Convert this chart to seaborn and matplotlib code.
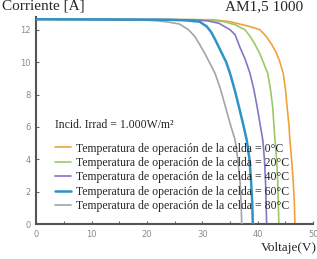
import pandas as pd
import seaborn as sns
import matplotlib.pyplot as plt
from matplotlib.ticker import MultipleLocator

# Curvas I-V (voltaje en V, corriente en A)
v_0 = [0, 32, 35, 36.8, 38.6, 40.4, 41.5, 42.5, 43.3, 43.9, 44.6, 45.0, 45.3, 45.6, 45.8, 46.1, 46.4, 46.6, 46.7]
i_0 = [12.65, 12.62, 12.5, 12.35, 12.2, 12.0, 11.6, 11.1, 10.6, 10.1, 9.3, 8.3, 7.2, 6.2, 5.2, 4.0, 2.6, 1.3, 0]
v_20 = [0, 30, 34, 36, 37.7, 38.6, 39.5, 40.4, 41.1, 41.8, 42.3, 42.7, 42.9, 43.1, 43.4, 43.6, 43.7, 43.8]
i_20 = [12.65, 12.62, 12.5, 12.3, 12.0, 11.6, 11.1, 10.5, 9.9, 9.3, 8.3, 7.2, 6.2, 5.2, 4.0, 2.6, 1.3, 0]
v_40 = [0, 28, 31, 33, 35.0, 35.9, 36.8, 37.7, 38.6, 39.3, 39.9, 40.4, 40.9, 41.2, 41.4, 41.5, 41.6]
i_40 = [12.65, 12.62, 12.55, 12.4, 12.0, 11.7, 10.9, 10.2, 9.3, 8.3, 7.2, 6.2, 5.2, 4.0, 2.6, 1.3, 0]
v_60 = [0, 24, 27, 29.5, 30.8, 31.6, 32.3, 33.3, 34.3, 35.0, 35.9, 36.7, 37.4, 38.0, 38.5, 38.8, 39.0, 39.1]
i_60 = [12.65, 12.62, 12.58, 12.5, 12.2, 11.85, 11.4, 10.7, 10.0, 9.3, 8.2, 7.1, 6.1, 5.2, 4.0, 2.6, 1.3, 0]
v_80 = [0, 18, 22, 24, 25.9, 27.5, 28.6, 29.5, 30.5, 31.4, 32.3, 33.3, 34.2, 35.1, 35.9, 36.4, 36.8, 37.0, 37.1]
i_80 = [12.65, 12.62, 12.55, 12.47, 12.35, 12.0, 11.6, 11.1, 10.5, 9.9, 9.3, 8.3, 7.2, 6.1, 5.2, 4.0, 2.6, 1.3, 0]

temperaturas = ["0°C", "20°C", "40°C", "60°C", "80°C"]
colores = ["#F2A13A", "#9CC867", "#8676C2", "#2E93C6", "#A3A3AB"]
grosor = [1.2, 1.2, 1.2, 1.8, 1.2]
orden = [2, 2, 2, 4, 3]

curvas = [(v_0, i_0), (v_20, i_20), (v_40, i_40), (v_60, i_60), (v_80, i_80)]
filas = []
for t, (v, i) in zip(temperaturas, curvas):
    for a, b in zip(v, i):
        filas.append([t, a, b])
df = pd.DataFrame(filas, columns=["temp", "V", "I"])

sns.set_theme(style="white")
plt.rcParams['font.family'] = ['Liberation Serif', 'DejaVu Serif']

fig = plt.figure(figsize=(3.17, 2.59), dpi=100)
ax = fig.add_axes([0.114, 0.135, 0.874, 0.8])

for t, c, lw, z in zip(temperaturas, colores, grosor, orden):
    sns.lineplot(data=df[df["temp"] == t], x="V", y="I", color=c, linewidth=lw,
                 sort=False, estimator=None, ax=ax, zorder=z,
                 label="Temperatura de operación de la celda = " + t)

ax.set_xlim(0, 50)
ax.set_ylim(0, 12.8)
ax.xaxis.set_major_locator(MultipleLocator(10))
ax.xaxis.set_minor_locator(MultipleLocator(5))
ax.yaxis.set_major_locator(MultipleLocator(2))
ax.set_xlabel("")
ax.set_ylabel("")
for s in ["top", "right"]:
    ax.spines[s].set_visible(False)
for s in ["left", "bottom"]:
    ax.spines[s].set_color("#555555")
    ax.spines[s].set_linewidth(1.5)
ax.tick_params(axis="both", which="both", direction="in", colors="#666666",
               labelcolor="#8a8a8a", labelsize=6, length=2, width=0.8, pad=4,
               bottom=True, left=True)
for lab in ax.get_xticklabels() + ax.get_yticklabels():
    lab.set_family("DejaVu Sans")

leg = ax.legend(loc="lower left", bbox_to_anchor=(0.052, 0.035), frameon=False,
                fontsize=8.5, handlelength=1.3, handletextpad=0.42,
                labelspacing=0.2, borderaxespad=0.0)

ax.text(0.069, 0.478, "Incid. Irrad = 1.000W/m²", transform=ax.transAxes,
        fontsize=8.5, va="center", ha="left")

fig.text(0.005, 1.0, "Corriente [A]", fontsize=11, va="top", ha="left")
fig.text(0.71, 1.0, "AM1,5 1000", fontsize=11, va="top", ha="left")
fig.text(0.998, 0.042, "Voltaje(V)", fontsize=9.5, va="center", ha="right")

fig.savefig("out.png", dpi=100)
